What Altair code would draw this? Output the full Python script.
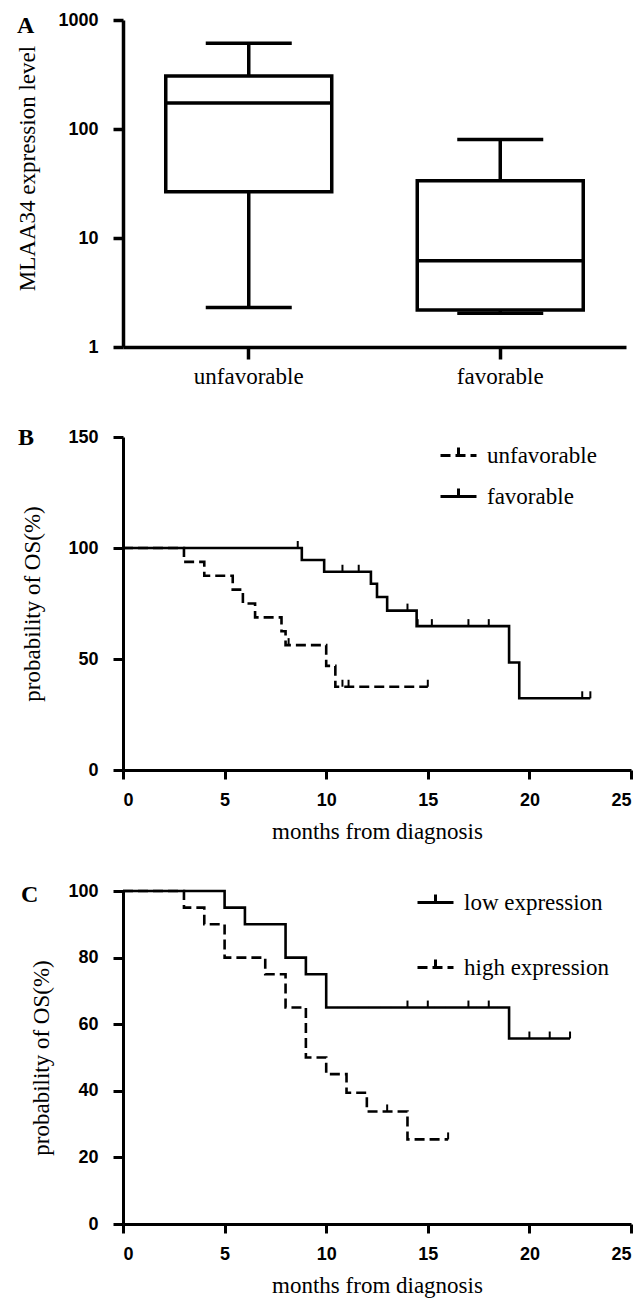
import altair as alt
import pandas as pd

# ---------------- Panel A : box plot (log scale) ----------------
groups_a = ["unfavorable", "favorable"]
whisk_lo = [2.3, 2.04]
q1 = [26.6, 2.18]
median = [173, 6.2]
q3 = [306, 33.6]
whisk_hi = [611, 80]

# ---------------- Panel B : Kaplan-Meier ----------------
b_unfav_t = [0, 3.0, 4.0, 5.4, 5.9, 6.5, 7.8, 8.0, 10.0, 10.45, 15.0]
b_unfav_s = [100, 93.75, 87.5, 81.25, 75.0, 68.75, 62.5, 56.25, 46.9, 37.5, 37.5]
b_unfav_cens_t = [8.15, 10.8, 11.1, 15.0]
b_unfav_cens_s = [56.25, 37.5, 37.5, 37.5]
b_fav_t = [0, 8.8, 9.9, 12.2, 12.5, 13.0, 14.45, 19.0, 19.5, 23.0]
b_fav_s = [100, 94.6, 89.3, 83.9, 77.9, 71.8, 64.8, 48.4, 32.3, 32.3]
b_fav_cens_t = [8.6, 10.8, 11.6, 14.0, 14.5, 15.2, 17.0, 18.0, 22.6, 23.0]
b_fav_cens_s = [100, 89.3, 89.3, 71.8, 64.8, 64.8, 64.8, 64.8, 32.3, 32.3]

# ---------------- Panel C : Kaplan-Meier ----------------
c_low_t = [0, 5, 6, 8, 9, 10, 19, 22]
c_low_s = [100, 95, 90, 80, 75, 65, 55.7, 55.7]
c_low_cens_t = [14, 15, 17, 18, 20, 21, 22]
c_low_cens_s = [65, 65, 65, 65, 55.7, 55.7, 55.7]
c_high_t = [0, 3, 4, 5, 7, 8, 9, 10, 11, 12, 14, 16]
c_high_s = [100, 95, 90, 80, 75, 65, 50, 45, 39.4, 33.8, 25.4, 25.4]
c_high_cens_t = [13, 16]
c_high_cens_s = [33.8, 25.4]

x_ticks = [0, 5, 10, 15, 20, 25]
b_y_ticks = [0, 50, 100, 150]
c_y_ticks = [0, 20, 40, 60, 80, 100]
a_y_ticks = [1, 10, 100, 1000]
panel_letters = ["A", "B", "C"]

SERIF = "Liberation Serif"
SANS = "Liberation Sans"
DASH = [10, 5]
SOLID = [1, 0]
LEG_PATH = "M-1,0H1M0,0V-0.45"


def letter_mark(letter, dx, dy):
    return alt.Chart(pd.DataFrame({"letter": [letter]})).mark_text(
        align="left", baseline="alphabetic", font=SERIF, fontSize=24,
        fontWeight="bold", color="black").encode(
        text="letter:N", x=alt.value(dx), y=alt.value(dy))


# ---------- Panel A ----------
dfa = pd.DataFrame({"group": groups_a, "lo": whisk_lo, "q1": q1, "med": median,
                    "q3": q3, "hi": whisk_hi})
xa = alt.X("group:N", sort=groups_a,
           scale=alt.Scale(paddingInner=0, paddingOuter=0),
           axis=alt.Axis(title=None, labelAngle=0, labelFont=SERIF, labelFontSize=23,
                         labelFontWeight="normal", tickSize=12, labelPadding=6,
                         domainWidth=3.5, tickWidth=3.5))
ya_scale = alt.Scale(type="log", domain=[1, 1000])
ya_axis = alt.Axis(title="MLAA34 expression level", values=a_y_ticks, format="d",
                   titlePadding=18, titleY=148, tickSize=10, labelPadding=15,
                   domainWidth=3.5, tickWidth=3.5)
base_a = alt.Chart(dfa)
whisk_low = base_a.mark_rule(strokeWidth=3.5, color="black").encode(
    x=xa, y=alt.Y("lo:Q", scale=ya_scale, axis=ya_axis), y2="q1:Q")
whisk_high = base_a.mark_rule(strokeWidth=3.5, color="black").encode(
    x=xa, y=alt.Y("q3:Q", scale=ya_scale), y2="hi:Q")
box = base_a.mark_bar(width=alt.RelativeBandSize(0.66), fill="white", stroke="black",
                      strokeWidth=3.5).encode(
    x=xa, y=alt.Y("q1:Q", scale=ya_scale), y2="q3:Q")
med = base_a.mark_tick(size=166, thickness=3.5, color="black", opacity=1,
                       orient="horizontal").encode(
    x=xa, y=alt.Y("med:Q", scale=ya_scale))
cap_lo = base_a.mark_tick(size=86, thickness=3.5, color="black", opacity=1,
                          orient="horizontal").encode(
    x=xa, y=alt.Y("lo:Q", scale=ya_scale))
cap_hi = base_a.mark_tick(size=86, thickness=3.5, color="black", opacity=1,
                          orient="horizontal").encode(
    x=xa, y=alt.Y("hi:Q", scale=ya_scale))
panel_a = alt.layer(whisk_low, whisk_high, box, med, cap_lo, cap_hi,
                    letter_mark(panel_letters[0], -106, 13)).properties(
    width=503, height=327)


def km_panel(curves, censors, domain_order, dash_range, y_dom, y_ticks, title_pad,
             letter, letter_dx, letter_dy, leg_x, leg_y, row_pad, height):
    lines = pd.concat([pd.DataFrame({"t": t, "s": s, "grp": g}) for g, t, s in curves])
    cens = pd.concat([pd.DataFrame({"t": t, "s": s, "grp": g}) for g, t, s in censors])
    x = alt.X("t:Q", scale=alt.Scale(domain=[0, 25], nice=False),
              axis=alt.Axis(title="months from diagnosis", values=x_ticks, tickSize=9,
                            labelPadding=12, titlePadding=11))
    y = alt.Y("s:Q", scale=alt.Scale(domain=y_dom, nice=False),
              axis=alt.Axis(title="probability of OS(%)", values=y_ticks, tickSize=10,
                            labelPadding=15, titlePadding=title_pad))
    line = alt.Chart(lines).mark_line(interpolate="step-after", strokeWidth=2.6,
                                      color="black").encode(
        x=x, y=y,
        strokeDash=alt.StrokeDash(
            "grp:N",
            scale=alt.Scale(domain=domain_order, range=dash_range),
            legend=alt.Legend(orient="none", legendX=leg_x, legendY=leg_y, title=None,
                              symbolType=LEG_PATH, symbolSize=1296,
                              symbolStrokeWidth=3, symbolStrokeColor="black",
                              symbolFillColor="transparent",
                              labelFont=SERIF, labelFontSize=23, labelColor="black",
                              labelOffset=9, rowPadding=row_pad, padding=0,
                              labelLimit=300)),
        detail="grp:N")
    ticks = alt.Chart(cens).mark_tick(orient="vertical", size=7, thickness=2,
                                      yOffset=-3.5, color="black", opacity=1).encode(
        x=x, y=y)
    return alt.layer(line, ticks, letter_mark(letter, letter_dx, letter_dy)).properties(
        width=508, height=height)


panel_b = km_panel(
    curves=[("favorable", b_fav_t, b_fav_s), ("unfavorable", b_unfav_t, b_unfav_s)],
    censors=[("favorable", b_fav_cens_t, b_fav_cens_s),
             ("unfavorable", b_unfav_cens_t, b_unfav_cens_s)],
    domain_order=["unfavorable", "favorable"], dash_range=[DASH, SOLID],
    y_dom=[0, 150], y_ticks=b_y_ticks, title_pad=23, letter=panel_letters[1],
    letter_dx=-105, letter_dy=8, leg_x=316, leg_y=-1, row_pad=9, height=333)

panel_c = km_panel(
    curves=[("low expression", c_low_t, c_low_s), ("high expression", c_high_t, c_high_s)],
    censors=[("low expression", c_low_cens_t, c_low_cens_s),
             ("high expression", c_high_cens_t, c_high_cens_s)],
    domain_order=["low expression", "high expression"], dash_range=[SOLID, DASH],
    y_dom=[0, 100], y_ticks=c_y_ticks, title_pad=14, letter=panel_letters[2],
    letter_dx=-102, letter_dy=11, leg_x=293, leg_y=-8, row_pad=33, height=333)

bottom = alt.vconcat(panel_b, panel_c, spacing=121, bounds="flush").resolve_scale(
    strokeDash="independent").resolve_legend(strokeDash="independent")

chart = alt.vconcat(panel_a, bottom, spacing=90, bounds="flush").resolve_scale(
    strokeDash="independent").resolve_legend(strokeDash="independent").properties(
    padding={"left": 8, "top": 3, "right": 0, "bottom": 3}, background="white"
).configure_view(stroke=None).configure_axis(
    grid=False, domainColor="black", tickColor="black", labelColor="black",
    titleColor="black", domainWidth=3, tickWidth=3, labelFont=SANS, labelFontSize=18,
    labelFontWeight="bold", titleFont=SERIF, titleFontSize=23, titleFontWeight="normal"
)

chart.save("out.html", embed_options={"renderer": "svg", "actions": False})
